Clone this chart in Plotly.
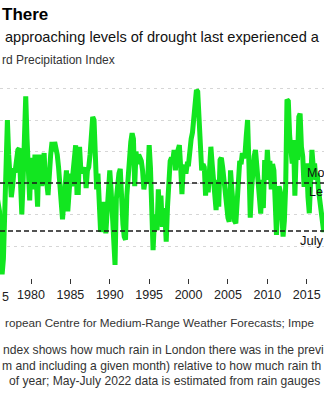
import pandas as pd
import plotly.graph_objects as go

# Standard Precipitation Index for London, one value every two months
# (Jan, Mar, May, Jul, Sep, Nov), 1975 onwards
spi_1970s = [
    0.4, 0.1, -0.3, -0.6, -0.4, -0.7,      # 1975
    -0.9, -1.7, -2.9, -2.4, -0.8, 0.8,     # 1976
    2.0, 0.9, 0.1, -0.45, -0.1, 0.4,       # 1977
    0.4, 0.8, 1.05, 1.1, 0.0, -1.0,        # 1978
    0.1, 1.3, 2.75, 1.4, 0.2, -0.55,       # 1979
]
spi_1980s = [
    0.8, 0.5, -0.2, 0.9, 0.1, -0.75,       # 1980
    0.9, 0.3, -0.1, 0.5, 0.95, 0.0,        # 1981
    0.0, -0.38, 0.7, 0.9, 1.3, 1.0,        # 1982
    1.3, 1.15, 0.9, 0.5, -0.1, -0.8,       # 1983
    -1.15, -0.6, 0.2, 0.4, -0.9, 0.1,      # 1984
    0.3, -0.1, 0.3, 0.9, 1.2, -0.3,        # 1985
    -0.3, 1.15, 0.4, 0.5, 0.3, 0.5,        # 1986
    -0.16, 0.4, 0.5, 0.9, 1.5, 2.1,        # 1987
    2.0, 0.8, -0.2, 0.3, -0.5, -1.55,      # 1988
    -1.3, -0.6, -1.0, -1.6, -0.9, 0.1,     # 1989
]
spi_1990s = [
    0.4, -0.2, -1.2, -2.3, -2.6, -0.5,     # 1990
    0.1, 0.3, 0.45, -0.7, -1.3, -1.7,      # 1991
    -1.8, -0.4, 0.3, 0.8, 1.3, 1.58,       # 1992
    1.4, -0.1, 1.0, 0.6, 0.9, 0.8,         # 1993
    0.7, 0.4, -0.2, 0.1, 0.0, 0.2,         # 1994
    1.2, 0.5, -0.8, -2.13, -1.2, -1.0,     # 1995
    -1.5, -0.2, -1.1, -0.4, -1.39, -0.8,   # 1996
    -1.0, -1.86, -0.75, 0.1, 0.7, 0.8,     # 1997
    0.7, 1.05, 0.4, 0.9, 1.1, 1.2,         # 1998
    0.5, -0.35, 0.5, 0.55, 0.3, 0.6,       # 1999
]
spi_2000s = [
    0.6, 1.3, 1.4, 1.6, 2.1, 2.6,          # 2000
    2.95, 2.9, 2.0, 0.6, 0.4, 0.6,         # 2001
    0.5, -0.4, 0.3, -0.3, 0.5, 1.15,       # 2002
    0.6, 0.0, -0.3, -0.86, 0.1, -0.75,     # 2003
    0.73, 0.8, 0.5, 0.1, -0.4, -1.0,       # 2004
    -1.1, -1.23, 0.4, -0.2, -1.0, -1.2,    # 2005
    -1.28, -0.4, 0.5, 0.7, 0.6, 0.95,      # 2006
    0.8, 0.9, 1.5, 2.0, 0.6, -1.1,         # 2007
    -0.2, 0.5, 0.85, 1.05, 0.6, 0.0,       # 2008
    -0.5, -0.97, 0.1, -0.8, 0.73, 0.1,     # 2009
]
spi_2010s = [
    1.05, 0.4, 0.7, -0.2, 0.6, 0.4,        # 2010
    -0.6, -1.65, -0.5, -0.1, -0.3, -0.8,   # 2011
    -1.7, -1.2, -0.1, 2.65, 2.6, 1.5,      # 2012
    1.15, 0.62, 1.36, -0.4, 0.9, 0.73,     # 2013
    2.1, 2.2, 1.15, 0.84, -0.12, 0.3,      # 2014
    0.62, -0.44, -0.96, 0.0, 1.05, 0.5,    # 2015
    0.62, 0.1, 0.3, -0.22, -0.6, -1.0,     # 2016
    -1.5, -1.55, -1.3, -0.8, -0.5, -0.3,   # 2017
]

JULY_2022_LEVEL = -1.52
year_ticks = [1980, 1985, 1990, 1995, 2000, 2005, 2010, 2015]

spi = spi_1970s + spi_1980s + spi_1990s + spi_2000s + spi_2010s
dates = pd.date_range("1975-01-01", periods=len(spi), freq="2MS")

W, H = 324, 400
M_TOP, M_BOT = 80, 122
PLOT_H = H - M_TOP - M_BOT
X0, X1 = pd.Timestamp("1976-01-24"), pd.Timestamp("2017-03-13")
FONT = "Liberation Sans, Arial, Helvetica, sans-serif"


def px_x(px):
    return px / W


def px_y(py):
    return (H - M_BOT - py) / PLOT_H


fig = go.Figure()
fig.add_trace(go.Scatter(
    x=dates, y=spi, mode="lines",
    line=dict(color="#12e620", width=5),
    hoverinfo="skip", showlegend=False,
))

for lvl in (0, JULY_2022_LEVEL):
    fig.add_hline(y=lvl, line=dict(color="#1a1a1a", width=1.5, dash="5px,3px"))

ann = []


def text(x, y, s, size, color="#111", anchor="left", bold=False):
    ann.append(dict(
        x=x, y=y, xref="paper", yref="paper", text=f"<b>{s}</b>" if bold else s,
        showarrow=False, xanchor=anchor, yanchor="middle",
        font=dict(family=FONT, size=size, color=color),
    ))


# headline block
text(px_x(0), px_y(14), "There", 17, "#000", bold=True)
text(px_x(3), px_y(37), "approaching levels of drought last experienced a", 14.6, "#111")
text(px_x(0), px_y(60), "rd Precipitation Index", 12, "#333")

# labels for the reference lines
text(px_x(305), px_y(172.5), "Mo", 12.5, "#111")
text(px_x(307), px_y(192), "Le", 12.5, "#111")
text(px_x(298), px_y(240), "July", 13, "#111")

# tail of the first year label at the left edge
text(px_x(0), px_y(297), "5", 12.5, "#222")

# source and notes
text(px_x(3), px_y(322), "ropean Centre for Medium-Range Weather Forecasts; Impe", 11.7, "#333")
text(px_x(1), px_y(350), "ndex shows how much rain in London there was in the previ", 12.1, "#333")
text(px_x(0), px_y(366), "m and including a given month) relative to how much rain th", 12.1, "#333")
text(px_x(7), px_y(381), "of year; May-July 2022 data is estimated from rain gauges", 12.1, "#333")

fig.update_layout(
    width=W, height=H,
    margin=dict(l=0, r=0, t=M_TOP, b=M_BOT, pad=0),
    paper_bgcolor="white", plot_bgcolor="white",
    annotations=ann,
    font=dict(family=FONT),
)
fig.update_xaxes(
    type="date", range=[X0, X1],
    tickvals=[pd.Timestamp(f"{y}-01-01") for y in year_ticks],
    ticktext=[str(y) for y in year_ticks],
    ticks="outside", ticklen=5, tickwidth=1, tickcolor="#333",
    tickfont=dict(family=FONT, size=12.5, color="#222"),
    showgrid=False, showline=False, zeroline=False,
)
fig.update_yaxes(
    range=[-(H - M_BOT - 183) / 31.5, (183 - M_TOP) / 31.5],
    tickvals=[-2, -1, 0, 1, 2, 3],
    showticklabels=False, ticks="",
    showgrid=True, gridcolor="#d6d6d6", gridwidth=1, griddash="3px,4px",
    zeroline=False, showline=False,
)

fig.write_html("out.html")
